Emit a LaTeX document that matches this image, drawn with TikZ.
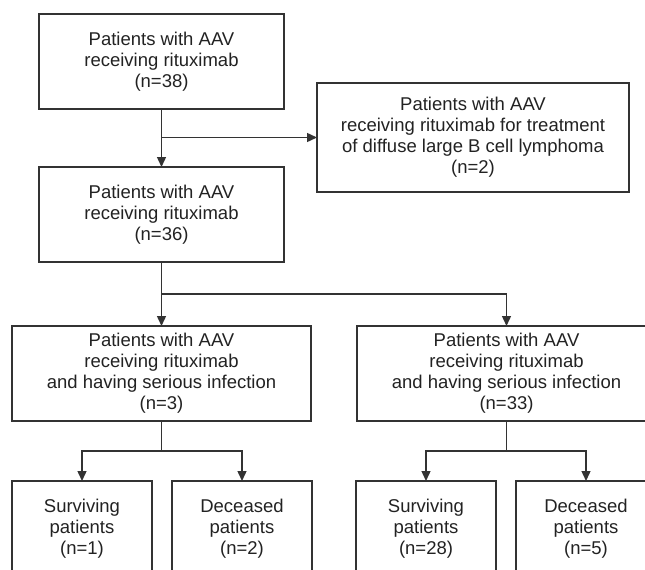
\documentclass[tikz,border=0pt]{standalone}
\usepackage{fontspec}
\setmainfont{Liberation Sans}
\usepackage{xcolor}
\usetikzlibrary{arrows.meta}
\definecolor{linegray}{HTML}{333333}
\definecolor{textgray}{HTML}{222222}

\begin{document}
\begin{tikzpicture}[
  x=1pt, y=-1pt,
  every node/.style={font=\fontsize{18.5}{21}\selectfont, text=textgray},
  stage/.style={draw=linegray, line width=1.4pt, align=center, inner sep=0pt, outer sep=0pt, minimum width=245pt, minimum height=95pt},
  wide/.style={stage, minimum width=299pt},
  leaf/.style={stage, minimum width=140pt},
  link/.style={draw=linegray, line width=1.4pt},
  flow/.style={link, -{Triangle[length=10pt,width=9pt]}}
]
\useasboundingbox (0,0) rectangle (645,570);
\clip (0,0) rectangle (645,570);

\node[stage] (top) at (161.5,61.5) {Patients with AAV\\receiving rituximab\\(n=38)};
\node[stage, minimum width=312pt, minimum height=109pt] (dlbcl) at (473,137.5) {Patients with AAV\\receiving rituximab for treatment\\of diffuse large B cell lymphoma\\(n=2)};
\node[stage] (mid) at (161.5,214.5) {Patients with AAV\\receiving rituximab\\(n=36)};

\node[wide] (infA) at (161.5,373.5) {Patients with AAV\\receiving rituximab\\and having serious infection\\(n=3)};
\node[wide] (infB) at (506.5,373.5) {Patients with AAV\\receiving rituximab\\and having serious infection\\(n=33)};

\node[leaf] (survA) at (82,528.5) {Surviving\\patients\\(n=1)};
\node[leaf] (decA) at (242,528.5) {Deceased\\patients\\(n=2)};
\node[leaf] (survB) at (426,528.5) {Surviving\\patients\\(n=28)};
\node[leaf] (decB) at (586,528.5) {Deceased\\patients\\(n=5)};

% exclusion branch
\coordinate (split0) at (top.south |- dlbcl.west);
\draw[flow] (top) -- (mid);
\draw[flow] (split0) -- (dlbcl.west);

% infection groups
\draw[flow] (mid.south) -- (infA.north);
\draw[flow] (mid.south) -- ++(0,32) -| (infB.north);

% outcomes
\draw[link] (infA.south) -- ++(0,30) coordinate (splitA);
\draw[flow] (splitA) -| (survA.north);
\draw[flow] (splitA) -| (decA.north);
\draw[link] (infB.south) -- ++(0,30) coordinate (splitB);
\draw[flow] (splitB) -| (survB.north);
\draw[flow] (splitB) -| (decB.north);
\end{tikzpicture}
\end{document}
